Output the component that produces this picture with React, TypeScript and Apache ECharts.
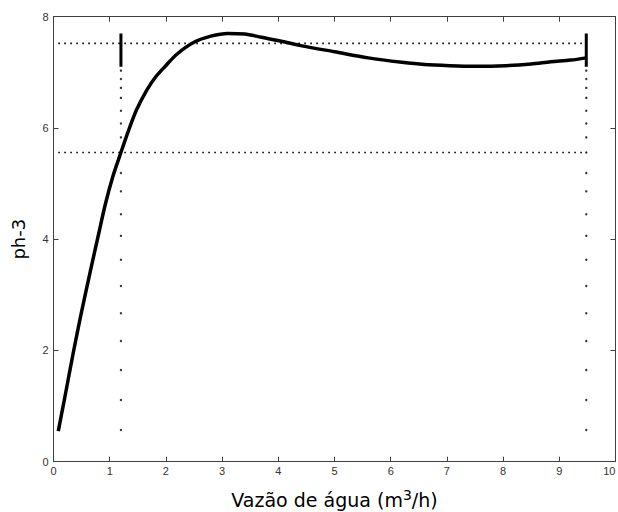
import React, { useEffect, useRef } from "react";
import * as echarts from "echarts";

// pH response curve
const curveX = [0.085, 0.2, 0.35, 0.5, 0.65, 0.8, 0.92, 1.06, 1.2, 1.33, 1.48, 1.66, 1.82, 1.98, 2.2, 2.5, 2.8, 3.1, 3.4, 3.7, 4.1, 4.4, 5.0, 5.6, 6.2, 6.6, 7.05, 7.5, 8.05, 8.5, 8.85, 9.2, 9.48];
const curveY = [0.55, 1.15, 1.95, 2.7, 3.4, 4.08, 4.62, 5.14, 5.56, 5.94, 6.33, 6.68, 6.92, 7.1, 7.33, 7.54, 7.65, 7.7, 7.69, 7.63, 7.55, 7.48, 7.37, 7.26, 7.18, 7.14, 7.12, 7.11, 7.12, 7.15, 7.19, 7.22, 7.26];

// Reference guides
const guideX = [1.2, 9.48];
const guideY = [5.56, 7.52];
const guideStartX = 0.085;
const markerY = [7.03, 6.88, 6.72, 6.54, 6.31, 6.08, 5.83, 5.56, 5.19, 4.86, 4.45, 4.06, 3.63, 3.16, 2.67, 2.17, 1.65, 1.11, 0.57];
const markerBandY = [7.1, 7.7];

const xTicks = { min: 0, max: 10, interval: 1 };
const yTicks = { min: 0, max: 8, interval: 2 };

const FONT = "'Liberation Sans', Arial, sans-serif";
const NAME_FONT = "'DejaVu Sans', sans-serif";
const AXIS_COLOR = "#404040";

export default function App() {
  const ref = useRef<HTMLDivElement>(null);

  useEffect(() => {
    if (!ref.current) return;
    const chart = echarts.init(ref.current, undefined, { renderer: "svg" });

    const axisLine = { show: true, onZero: false, lineStyle: { color: AXIS_COLOR, width: 1 } };
    const axisTick = { show: true, inside: true, length: 5, lineStyle: { color: AXIS_COLOR } };
    const axisLabel = { color: "#333", fontFamily: FONT, fontSize: 11, hideOverlap: false };

    const series: any[] = [
      {
        type: "line",
        data: curveX.map((x, i) => [x, curveY[i]]),
        showSymbol: false,
        smooth: 0.3,
        lineStyle: { color: "#000", width: 3.5 },
        z: 5,
      },
    ];

    guideY.forEach((y) => {
      series.push({
        type: "line",
        data: [[guideStartX, y], [guideX[1], y]],
        showSymbol: false,
        lineStyle: { color: "#000", width: 1.6, type: [1.6, 4.4] },
        z: 3,
      });
    });

    guideX.forEach((x) => {
      series.push({
        type: "scatter",
        data: markerY.map((y) => [x, y]),
        symbol: "circle",
        symbolSize: 2.4,
        itemStyle: { color: "#000" },
        z: 3,
      });
      series.push({
        type: "line",
        data: markerBandY.map((y) => [x, y]),
        showSymbol: false,
        lineStyle: { color: "#000", width: 3 },
        z: 4,
      });
    });

    chart.setOption({
      animation: false,
      backgroundColor: "#fff",
      grid: { left: 53.5, right: 2.5, top: 16.7, bottom: 50.3, outerBoundsMode: "none", containLabel: false },
      xAxis: [
        {
          type: "value",
          ...xTicks,
          axisLine,
          axisTick,
          axisLabel: { ...axisLabel, margin: 4, alignMaxLabel: "right" },
          splitLine: { show: false },
          name: "Vazão de água (m{sup|3}/h)",
          nameLocation: "middle",
          nameGap: 26,
          nameTextStyle: {
            fontFamily: NAME_FONT,
            fontSize: 19,
            color: "#000",
            rich: {
              sup: { fontFamily: NAME_FONT, fontSize: 14, color: "#000", verticalAlign: "top", padding: [0, 0, 10, 0] },
            },
          },
        },
        {
          type: "value",
          position: "top",
          ...xTicks,
          axisLine,
          axisTick,
          axisLabel: { show: false },
          splitLine: { show: false },
        },
      ],
      yAxis: [
        {
          type: "value",
          ...yTicks,
          axisLine,
          axisTick,
          axisLabel: { ...axisLabel, margin: 5 },
          splitLine: { show: false },
          name: "ph-3",
          nameLocation: "middle",
          nameGap: 26,
          nameRotate: 90,
          nameTextStyle: { fontFamily: NAME_FONT, fontSize: 18, color: "#000" },
        },
        {
          type: "value",
          position: "right",
          ...yTicks,
          axisLine,
          axisTick,
          axisLabel: { show: false },
          splitLine: { show: false },
        },
      ],
      series,
    });

    return () => chart.dispose();
  }, []);

  return (
    <div
      ref={ref}
      style={{ position: "fixed", left: 0, top: 0, width: 618, height: 512, background: "#fff" }}
    />
  );
}
